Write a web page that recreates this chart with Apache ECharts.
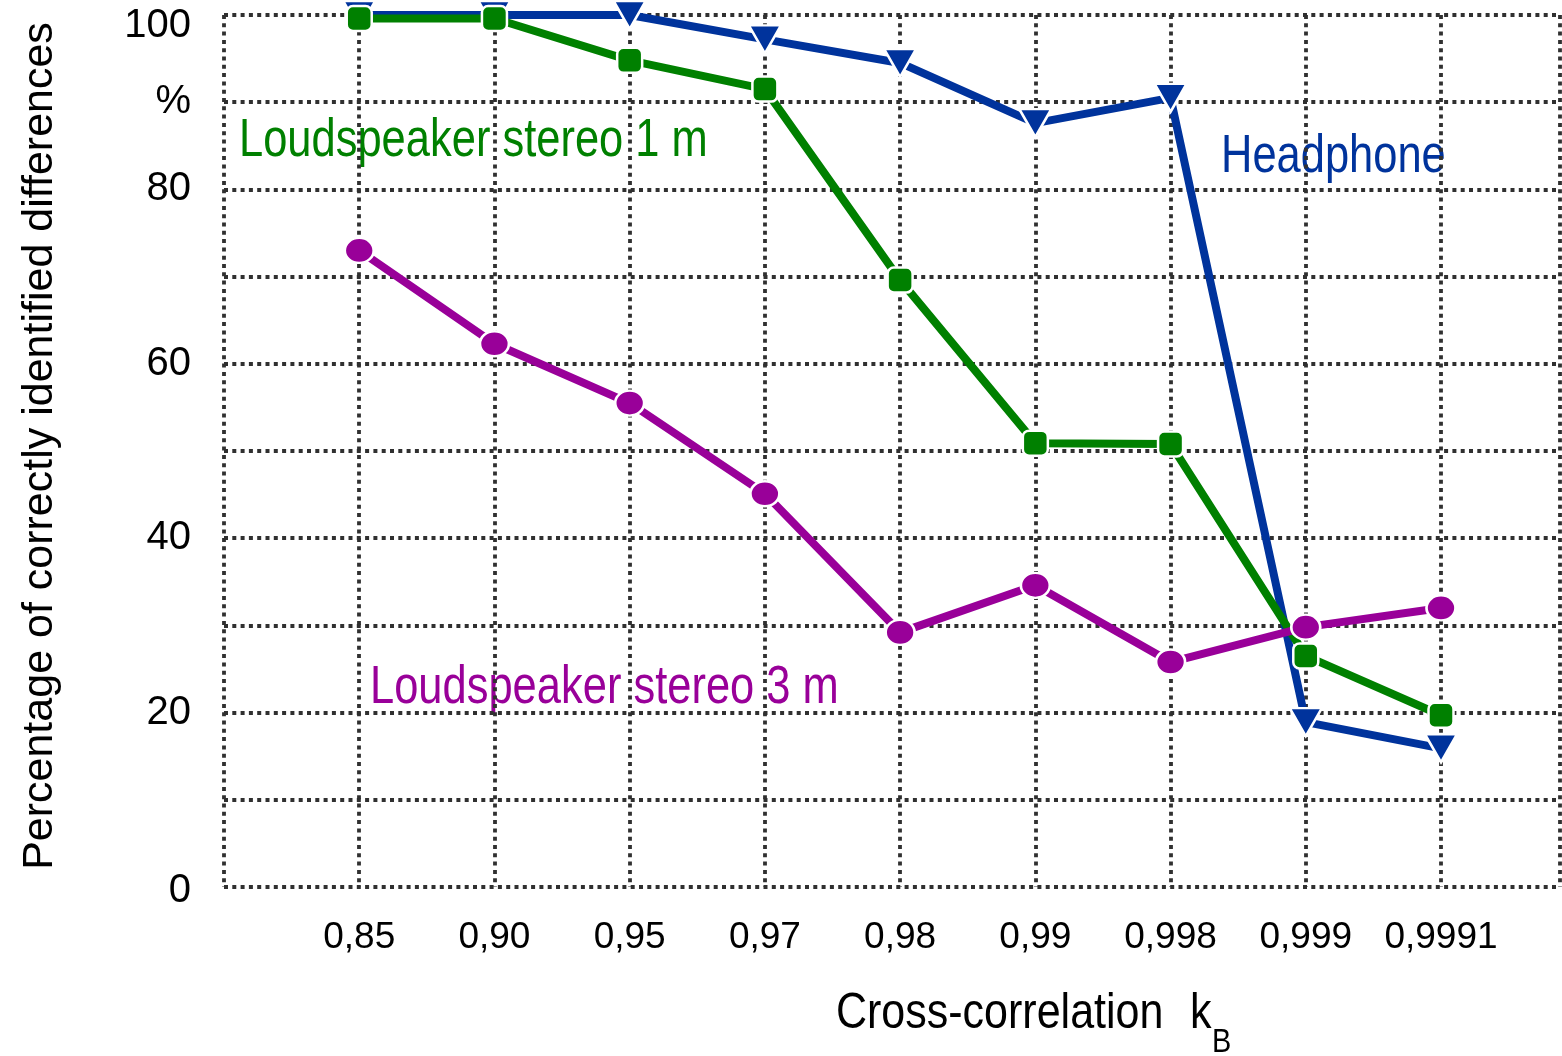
<!DOCTYPE html>
<html>
<head>
<meta charset="utf-8">
<script src="https://cdn.jsdelivr.net/npm/echarts@6/dist/echarts.min.js"></script>
<style>
html,body{margin:0;padding:0;background:#fff;}
#chart{width:1562px;height:1056px;}
</style>
</head>
<body>
<div id="chart"></div>
<script>
// ---- data ----
const xCategories = ['0,85', '0,90', '0,95', '0,97', '0,98', '0,99', '0,998', '0,999', '0,9991'];
const yTickLabels = ['0', '', '20', '', '40', '', '60', '', '80', '%', '100'];
const headphone = [100, 100, 100, 97.2, 94.5, 87.6, 90.5, 18.9, 15.9];
const stereo1m = [99.6, 99.6, 94.8, 91.5, 69.6, 50.9, 50.8, 26.5, 19.7];
const stereo3m = [73.0, 62.3, 55.5, 45.1, 29.2, 34.6, 25.8, 29.8, 32.0];
const seriesNames = ['Headphone', 'Loudspeaker stereo 1 m', 'Loudspeaker stereo 3 m'];
const yTitle = 'Percentage of correctly identified differences';
const xTitle = 'Cross-correlation';
const xTitleVar = 'k';
const xTitleSub = 'B';

// ---- styling ----
const SANS = '"Liberation Sans", Arial, sans-serif';
const BLUE = '#00339c';
const GREEN = '#008000';
const PURPLE = '#990099';
const TICK_FS = 37;
const gridLine = { show: true, lineStyle: { color: '#303030', width: 3.8, type: [4, 4.3] } };

function pairs(arr) { return arr.map((v, i) => [i + 1, v]); }

function label(text, x, y, fs, color, sx, z, rot) {
  return {
    type: 'text', x: x, y: y, z: z, scaleX: sx || 1, rotation: rot || 0,
    style: { text: text, font: fs + 'px ' + SANS, fill: color, align: rot ? 'center' : 'left', verticalAlign: 'middle' }
  };
}

const chart = echarts.init(document.getElementById('chart'), null, { renderer: 'canvas' });
chart.setOption({
  backgroundColor: '#ffffff',
  animation: false,
  grid: { left: 224, right: 2, top: 15, bottom: 169, containLabel: false },
  xAxis: {
    type: 'value', min: 0, max: 9.88, interval: 1,
    axisLine: { show: false }, axisTick: { show: false },
    splitLine: gridLine,
    axisLabel: {
      margin: 32, fontFamily: SANS, fontSize: TICK_FS, color: '#000',
      showMaxLabel: false,
      formatter: function (v) {
        const i = Math.round(v);
        if (Math.abs(v - i) > 1e-6 || i < 1 || i > xCategories.length) return '';
        return xCategories[i - 1];
      }
    }
  },
  yAxis: {
    type: 'value', min: 0, max: 100, interval: 10,
    axisLine: { show: false }, axisTick: { show: false },
    splitLine: gridLine,
    axisLabel: {
      margin: 33, fontFamily: SANS, fontSize: TICK_FS + 3, color: '#000',
      formatter: function (v) {
        const i = Math.round(v / 10);
        const t = yTickLabels[i];
        if (i === yTickLabels.length - 1) return '{top|' + t + '}';
        if (i === 0) return '{bot|' + t + '}';
        return t;
      },
      rich: {
        top: { fontFamily: SANS, fontSize: TICK_FS + 3, color: '#000', padding: [22, 0, 0, 0] },
        bot: { fontFamily: SANS, fontSize: TICK_FS + 3, color: '#000', padding: [8, 0, 0, 0] }
      }
    }
  },
  graphic: [
    label(yTitle, 40, 446, 43, '#000', 1, 10, Math.PI / 2),
    label(xTitle, 836, 1014, 50, '#000', 0.86, 10),
    label(xTitleVar, 1190, 1014, 50, '#000', 0.86, 10),
    label(xTitleSub, 1212, 1043, 34, '#000', 0.85, 10),
    label(seriesNames[1], 239, 141, 54, GREEN, 0.805, -1),
    label(seriesNames[0], 1221, 157, 54, BLUE, 0.805, -1),
    label(seriesNames[2], 370, 688, 54, PURPLE, 0.805, -1)
  ],
  series: [
    {
      name: seriesNames[0], type: 'line', data: pairs(headphone), clip: false,
      symbol: 'triangle', symbolRotate: 180, symbolSize: [32, 28],
      lineStyle: { color: BLUE, width: 8 },
      itemStyle: { color: BLUE, borderColor: '#fff', borderWidth: 2.5 },
      z: 3
    },
    {
      name: seriesNames[1], type: 'line', data: pairs(stereo1m), clip: false,
      symbol: 'roundRect', symbolSize: 25,
      lineStyle: { color: GREEN, width: 8 },
      itemStyle: { color: GREEN, borderColor: '#fff', borderWidth: 2.5 },
      z: 4
    },
    {
      name: seriesNames[2], type: 'line', data: pairs(stereo3m), clip: false,
      symbol: 'circle', symbolSize: [29, 25],
      lineStyle: { color: PURPLE, width: 8 },
      itemStyle: { color: PURPLE, borderColor: '#fff', borderWidth: 2.5 },
      z: 5
    }
  ]
});
</script>
</body>
</html>
